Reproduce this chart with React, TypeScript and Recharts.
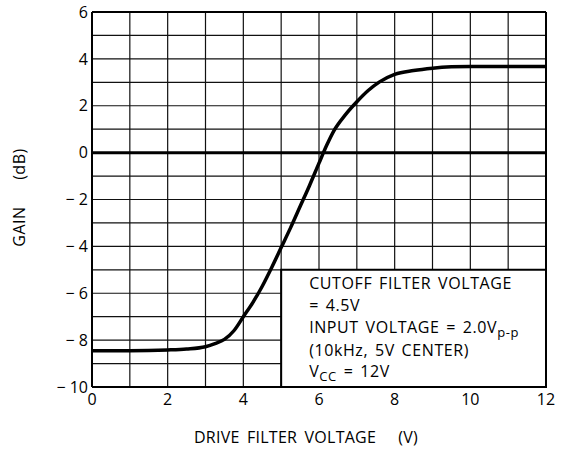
import { LineChart, Line, XAxis, YAxis, CartesianGrid, ReferenceLine, ReferenceArea } from 'recharts';

// drive filter voltage (V) vs gain (dB)
const driveVoltage = [0, 1, 2, 2.5, 3, 3.25, 3.5, 3.75, 4, 4.25, 4.5, 4.75, 5, 5.25, 5.5, 5.75, 6, 6.2, 6.4, 6.7, 7, 7.3, 7.6, 8, 8.5, 9, 9.5, 10, 11, 12];
const gainDb = [-8.45, -8.45, -8.42, -8.38, -8.28, -8.15, -7.97, -7.6, -7.0, -6.4, -5.7, -4.9, -4.05, -3.2, -2.3, -1.4, -0.45, 0.3, 0.95, 1.62, 2.17, 2.65, 3.02, 3.34, 3.5, 3.6, 3.66, 3.68, 3.68, 3.67];

const xTicks = [0, 2, 4, 6, 8, 10, 12];
const yTicks = [-10, -8, -6, -4, -2, 0, 2, 4, 6];
const xGrid = [0, 1, 2, 3, 4, 5, 6, 7, 8, 9, 10, 11, 12];
const yGrid = [-10, -9, -8, -7, -6, -5, -4, -3, -2, -1, 0, 1, 2, 3, 4, 5, 6];

const noteLines = ['CUTOFF FILTER VOLTAGE', '= 4.5V', 'INPUT VOLTAGE = 2.0V', '(10kHz, 5V CENTER)', 'V'];

const data = driveVoltage.map((x, i) => ({ x, gain: gainDb[i] }));

const FONT = '"Open Sans", "DejaVu Sans", sans-serif';
const textStyle = { fontFamily: FONT, fontSize: 16, fill: '#000', letterSpacing: 0.6, wordSpacing: 2 };

function NoteLabel(props: any) {
  const vb = props.viewBox || {};
  const x0 = vb.x + 28;
  const y0 = vb.y;
  return (
    <g>
      <text x={x0} y={y0 + 19} style={textStyle}>{noteLines[0]}</text>
      <text x={x0} y={y0 + 41} style={textStyle}>{noteLines[1]}</text>
      <text x={x0} y={y0 + 63} style={textStyle}>
        {noteLines[2]}
        <tspan dy={4} fontSize={13}>p-p</tspan>
      </text>
      <text x={x0} y={y0 + 86} style={textStyle}>{noteLines[3]}</text>
      <text x={x0} y={y0 + 107} style={textStyle}>
        {noteLines[4]}
        <tspan dy={4} fontSize={13}>CC</tspan>
        <tspan dy={-4}> = 12V</tspan>
      </text>
    </g>
  );
}

function XLabel(props: any) {
  const vb = props.viewBox || {};
  return (
    <text x={vb.x + vb.width / 2 - 13} y={vb.y + 56} textAnchor="middle"
      style={{ ...textStyle, letterSpacing: 0.25, wordSpacing: 3 }}>
      DRIVE FILTER VOLTAGE{'\u00a0\u00a0\u00a0'}(V)
    </text>
  );
}

function YLabel(props: any) {
  const vb = props.viewBox || {};
  const cx = vb.x + 21;
  const cy = vb.y + vb.height / 2 - 2;
  return (
    <text x={cx} y={cy} textAnchor="middle" dominantBaseline="middle" transform={`rotate(-90, ${cx}, ${cy})`}
      style={{ ...textStyle, letterSpacing: 0.5 }}>
      GAIN{'\u00a0\u00a0\u00a0\u00a0'}(dB)
    </text>
  );
}

export default function App() {
  return (
    <div style={{ position: 'absolute', left: 0, top: 0, width: 563, height: 455, background: '#fff' }}>
      <LineChart width={563} height={455} data={data} margin={{ top: 12, right: 17, bottom: 0, left: 0 }}>
        <CartesianGrid horizontalValues={yGrid} verticalValues={xGrid} stroke="#111" strokeWidth={1.2} />
        <XAxis
          type="number"
          dataKey="x"
          domain={[0, 12]}
          ticks={xTicks}
          height={68}
          tickSize={0}
          tickMargin={7}
          axisLine={{ stroke: '#000', strokeWidth: 2 }}
          tick={{ fontFamily: FONT, fontSize: 16, fill: '#000' }}
          label={<XLabel />}
        />
        <YAxis
          type="number"
          domain={[-10, 6]}
          ticks={yTicks}
          width={92}
          tickSize={0}
          tickMargin={4}
          interval={0}
          axisLine={{ stroke: '#000', strokeWidth: 2 }}
          tickFormatter={(v: number) => (v < 0 ? `\u2212 ${-v}` : `${v}`)}
          tick={{ fontFamily: FONT, fontSize: 16, fill: '#000' }}
          label={<YLabel />}
        />
        <ReferenceLine y={6} stroke="#000" strokeWidth={2} />
        <ReferenceLine x={12} stroke="#000" strokeWidth={2} />
        <ReferenceLine y={0} stroke="#000" strokeWidth={3} />
        <ReferenceArea x1={5} x2={12} y1={-10} y2={-5} fill="#fff" fillOpacity={1} stroke="#000" strokeWidth={2} label={<NoteLabel />} />
        <Line
          type="monotone"
          dataKey="gain"
          stroke="#000"
          strokeWidth={3.5}
          dot={false}
          isAnimationActive={false}
        />
      </LineChart>
    </div>
  );
}
